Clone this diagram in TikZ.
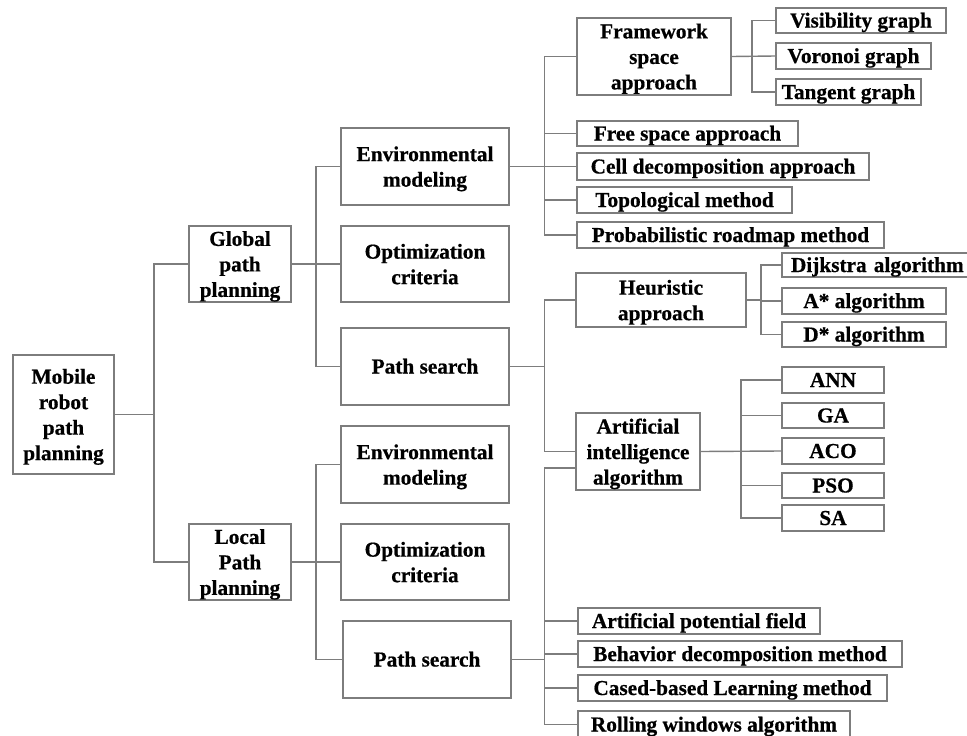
\documentclass[tikz,border=0pt]{standalone}
\usepackage{fontspec}
\setmainfont{Liberation Serif}[BoldFeatures={FakeBold=0.6}]
\usetikzlibrary{calc}
\definecolor{edgegray}{RGB}{125,125,125}
\tikzset{
  box/.style={draw=edgegray, line width=1.4pt, rectangle, inner sep=0pt, align=center,
    text depth=0pt, font=\fontsize{21.3}{25.5}\selectfont\bfseries, text=black},
  sbox/.style={box, text height=14pt},
  link/.style={draw=edgegray, line width=1.4pt}
}
\begin{document}
\begin{tikzpicture}[x=1pt,y=-1pt]
\useasboundingbox[fill=white] (0,0) rectangle (967,736);

% root and first level
\node[box, minimum width=101pt, minimum height=119pt] (root) at (63.5,414.5) {Mobile\\robot\\path\\planning};
\node[box, minimum width=102pt, minimum height=76pt] (global) at (240,264) {Global\\path\\planning};
\node[box, minimum width=102pt, minimum height=76pt] (local) at (240,562) {Local\\Path\\planning};

% second level
\node[box, minimum width=168pt, minimum height=77pt] (env1) at (425,166.5) {Environmental\\modeling};
\node[box, minimum width=168pt, minimum height=76pt] (opt1) at (425,264) {Optimization\\criteria};
\node[sbox, minimum width=168pt, minimum height=77pt] (ps1) at (425,366.5) {Path search};
\node[box, minimum width=168pt, minimum height=77pt] (env2) at (425,464.5) {Environmental\\modeling};
\node[box, minimum width=168pt, minimum height=76pt] (opt2) at (425,562) {Optimization\\criteria};
\node[sbox, minimum width=168pt, minimum height=77pt] (ps2) at (427,659.5) {Path search};

% environmental modeling methods
\node[box, minimum width=154pt, minimum height=77pt] (fw) at (654,56.5) {Framework\\space\\approach};
\node[sbox, minimum width=221pt, minimum height=25pt] (free) at (687.5,133.5) {Free space approach};
\node[sbox, minimum width=292pt, minimum height=27pt] (cell) at (723,166.5) {Cell decomposition approach};
\node[sbox, minimum width=215pt, minimum height=26pt] (topo) at (684.5,200) {Topological method};
\node[sbox, minimum width=307pt, minimum height=26pt] (prob) at (730.5,235) {Probabilistic roadmap method};

\node[sbox, minimum width=170pt, minimum height=25pt] (vis) at (861,20.5) {Visibility graph};
\node[sbox, minimum width=155pt, minimum height=26pt] (vor) at (853.5,56) {Voronoi graph};
\node[sbox, minimum width=145pt, minimum height=26pt] (tan) at (848.5,92) {Tangent graph};

% global path search methods
\node[box, minimum width=170pt, minimum height=54pt] (heur) at (661,300) {Heuristic\\approach};
\node[box, minimum width=124pt, minimum height=77pt] (ai) at (638,451.5) {Artificial\\intelligence\\algorithm};

\node[sbox, minimum width=190pt, minimum height=24pt, text width=190pt, align=left] (dij) at (877,265) {\hspace*{9pt}Dijkstra algorithm};
\node[sbox, minimum width=164pt, minimum height=26pt] (astar) at (864,301) {A* algorithm};
\node[sbox, minimum width=164pt, minimum height=25pt] (dstar) at (864,334.5) {D* algorithm};

\node[sbox, minimum width=102pt, minimum height=26pt] (ann) at (833,380) {ANN};
\node[sbox, minimum width=102pt, minimum height=25pt] (ga) at (833,415.5) {GA};
\node[sbox, minimum width=102pt, minimum height=26pt] (aco) at (833,451) {ACO};
\node[sbox, minimum width=102pt, minimum height=25pt] (pso) at (833,485.5) {PSO};
\node[sbox, minimum width=102pt, minimum height=26pt] (sa) at (833,518) {SA};

% local path search methods
\node[sbox, minimum width=242pt, minimum height=26pt] (apf) at (699,621) {Artificial potential field};
\node[sbox, minimum width=324pt, minimum height=26pt] (beh) at (740,654) {Behavior decomposition method};
\node[sbox, minimum width=309pt, minimum height=26pt] (cbl) at (732.5,688) {Cased-based Learning method};
\node[sbox, minimum width=272pt, minimum height=27pt] (roll) at (714,724.5) {Rolling windows algorithm};

% trunk positions
\coordinate (t0) at (154,0);
\coordinate (t1) at (316,0);
\coordinate (t2) at (544.5,0);
\coordinate (t3) at (752,0);
\coordinate (t4) at (761,0);
\coordinate (t5) at (741,0);

% root to global / local
\draw[link] (root.east) -- (t0 |- root.east);
\draw[link] (global.west) -- (t0 |- global.west) -- (t0 |- local.west) -- (local.west);

% global planning branches
\draw[link] (global.east) -- (opt1.west);
\draw[link] (env1.west) -- (t1 |- env1.west) -- (t1 |- ps1.west) -- (ps1.west);

% local planning branches
\draw[link] (local.east) -- (opt2.west);
\draw[link] (env2.west) -- (t1 |- env2.west) -- (t1 |- ps2.west) -- (ps2.west);

% environmental modeling methods
\draw[link] (env1.east) -- (cell.west);
\draw[link] (fw.west) -- (t2 |- fw.west) -- (t2 |- prob.west) -- (prob.west);
\draw[link] (t2 |- free.west) -- (free.west);
\draw[link] (t2 |- topo.west) -- (topo.west);

% framework space approach
\draw[link] (fw.east) -- (vor.west);
\draw[link] (vis.west) -- (t3 |- vis.west) -- (t3 |- tan.west) -- (tan.west);

% global path search
\draw[link] (ps1.east) -- (t2 |- ps1.east);
\draw[link] (heur.west) -- (t2 |- heur.west) -- (t2 |- ai.west) -- (ai.west);

% heuristic approach
\draw[link] (heur.east) -- (t4 |- heur.east);
\draw[link] (dij.west) -- (t4 |- dij.west) -- (t4 |- dstar.west) -- (dstar.west);
\draw[link] (t4 |- astar.west) -- (astar.west);

% artificial intelligence algorithm
\draw[link] (ai.east) -- (aco.west);
\draw[link] (ann.west) -- (t5 |- ann.west) -- (t5 |- sa.west) -- (sa.west);
\draw[link] (t5 |- ga.west) -- (ga.west);
\draw[link] (t5 |- pso.west) -- (pso.west);

% local path search
\coordinate (ailow) at ($(ai.west)+(0,16.5)$);
\draw[link] (ps2.east) -- (t2 |- ps2.east);
\draw[link] (ailow) -- (t2 |- ailow) -- (t2 |- roll.west) -- (roll.west);
\draw[link] (t2 |- apf.west) -- (apf.west);
\draw[link] (t2 |- beh.west) -- (beh.west);
\draw[link] (t2 |- cbl.west) -- (cbl.west);
\end{tikzpicture}
\end{document}
